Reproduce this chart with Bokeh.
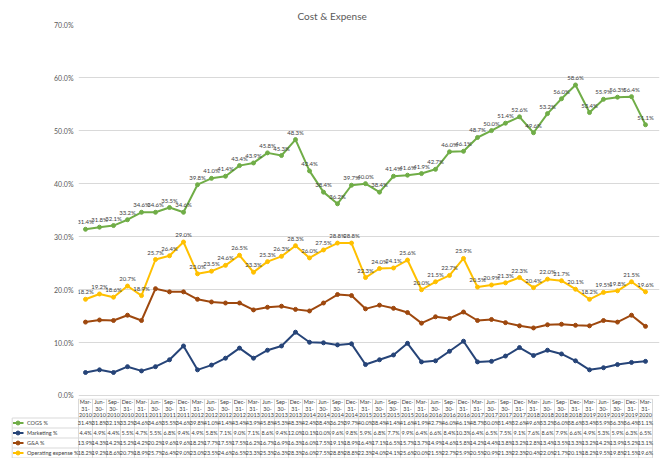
from bokeh.plotting import figure
from bokeh.models import Range1d, FixedTicker, PrintfTickFormatter, ColumnDataSource
from bokeh.embed import file_html
from bokeh.resources import INLINE
from bokeh.core.properties import value

# ---------------- data ----------------
month_labels = ["Mar-", "Jun-", "Sep-", "Dec-"]
day_labels = ["31-", "30-", "30-", "31-"]
year_labels = [str(y) for y in range(2010, 2021)]

cogs = [31.4, 31.8, 32.1, 33.2, 34.6, 34.6, 35.5, 34.6, 39.8, 41.0, 41.4, 43.4, 43.9, 45.8,
        45.3, 48.3, 42.4, 38.4, 36.2, 39.7, 40.0, 38.4, 41.4, 41.6, 41.9, 42.7, 46.0, 46.1,
        48.7, 50.0, 51.4, 52.6, 49.6, 53.2, 56.0, 58.6, 53.4, 55.9, 56.3, 56.4, 51.1]
marketing = [4.4, 4.9, 4.4, 5.5, 4.7, 5.5, 6.8, 9.4, 4.9, 5.8, 7.1, 9.0, 7.1, 8.6, 9.4, 12.0,
             10.1, 10.0, 9.6, 9.8, 5.9, 6.8, 7.7, 9.9, 6.4, 6.6, 8.4, 10.3, 6.4, 6.5, 7.5, 9.1,
             7.6, 8.6, 7.9, 6.6, 4.9, 5.3, 5.9, 6.3, 6.5]
ga = [13.9, 14.3, 14.2, 15.2, 14.2, 20.2, 19.6, 19.6, 18.2, 17.7, 17.5, 17.5, 16.2, 16.7,
      16.9, 16.3, 16.0, 17.5, 19.1, 18.9, 16.4, 17.1, 16.5, 15.7, 13.7, 14.9, 14.6, 15.8,
      14.2, 14.4, 13.8, 13.2, 12.8, 13.4, 13.5, 13.3, 13.2, 14.2, 13.9, 15.2, 13.1]
opex = [18.2, 19.2, 18.6, 20.7, 18.9, 25.7, 26.4, 29.0, 23.0, 23.5, 24.6, 26.5, 23.3, 25.3,
        26.3, 28.3, 26.0, 27.5, 28.8, 28.8, 22.3, 24.0, 24.1, 25.6, 20.0, 21.5, 22.7, 25.9,
        20.5, 20.9, 21.3, 22.3, 20.4, 22.0, 21.7, 20.1, 18.2, 19.5, 19.8, 21.5, 19.6]

series_names = ["COGS %", "Marketing %", "G&A %", "Operating expense %"]
series_values = [cogs, marketing, ga, opex]
series_colors = ["#70ad47", "#264478", "#9e480e", "#ffc000"]
labelled = [True, False, False, True]
y_ticks = [0, 10, 20, 30, 40, 50, 60, 70]

n = len(cogs)
xs = list(range(n))
q_month = [month_labels[i % 4] for i in xs]
q_day = [day_labels[i % 4] for i in xs]
q_year = [year_labels[i // 4] for i in xs]

FONT = "Lato"
TXT = "#404040"
GRID = "#d9d9d9"
W = 660
PX = 14.0      # pixels per quarter
LEFT = 78      # left edge of chart frame
X_MAX = n      # right end of x range (leaves room for the last label)

# ---------------- chart ----------------
p = figure(width=W, height=398, x_range=Range1d(-0.5, X_MAX), y_range=Range1d(-0.5, 70),
           output_backend="svg", toolbar_location=None, x_axis_location=None,
           min_border_left=LEFT, min_border_right=1, min_border_top=24, min_border_bottom=0)
p.title.text = "Cost & Expense"
p.title.align = "left"
p.title.offset = 219
p.title.text_font = FONT
p.title.text_font_size = "10px"
p.title.text_font_style = "normal"
p.title.text_color = "#595959"
p.title.standoff = 6
p.outline_line_color = None
p.yaxis.ticker = FixedTicker(ticks=y_ticks)
p.yaxis.formatter = PrintfTickFormatter(format="%.1f%%")
p.yaxis.axis_line_color = None
p.yaxis.major_tick_line_color = None
p.yaxis.minor_tick_line_color = None
p.yaxis.major_tick_out = 0
p.yaxis.major_tick_in = 0
p.yaxis.minor_tick_out = 0
p.yaxis.major_label_text_font = FONT
p.yaxis.major_label_text_font_size = "7px"
p.yaxis.major_label_text_color = "#595959"
p.yaxis.major_label_standoff = 5
p.ygrid.grid_line_color = GRID
for g in p.xgrid:
    g.visible = False

for name, vals, col, lab in zip(series_names, series_values, series_colors, labelled):
    src = ColumnDataSource(dict(x=xs, y=vals, t=["%.1f%%" % v for v in vals]))
    p.line("x", "y", source=src, line_color=col, line_width=2)
    p.scatter("x", "y", source=src, size=4, fill_color=col, line_color=col)
    if lab:
        p.text("x", "y", text="t", source=src, y_offset=-4, text_align="center",
               text_baseline="bottom", text_font=value(FONT), text_font_size="6px",
               text_color=TXT)

# ---------------- data table ----------------
TH = 60
T_LEFT = 10
x_left = -0.5 - (LEFT - T_LEFT) / PX
t = figure(width=W, height=TH, x_range=Range1d(x_left, X_MAX), y_range=Range1d(TH, 0),
           output_backend="svg", toolbar_location=None, x_axis_location=None,
           y_axis_location=None, min_border_left=T_LEFT, min_border_right=1,
           min_border_top=0, min_border_bottom=0)
t.outline_line_color = None
t.grid.visible = False

def fx(px):
    return x_left + px / PX

head_top, head_bot, row_h = 0.5, 19.5, 10.0
row_y = [head_bot + row_h * (i + 1) for i in range(len(series_names))]
bottom = row_y[-1]
right = n - 0.5

vx = [i - 0.5 for i in range(n + 1)]
t.segment(x0=vx, y0=[head_top] * len(vx), x1=vx, y1=[bottom] * len(vx),
          line_color=GRID, line_width=1)
t.segment(x0=[fx(1.7)], y0=[head_bot], x1=[fx(1.7)], y1=[bottom], line_color=GRID, line_width=1)
t.segment(x0=[-0.5], y0=[head_top], x1=[right], y1=[head_top], line_color=GRID, line_width=1)
t.segment(x0=[fx(1.7)] * (len(row_y) + 1), y0=[head_bot] + row_y,
          x1=[right] * (len(row_y) + 1), y1=[head_bot] + row_y, line_color=GRID, line_width=1)

for lines, yy in ((q_month, 3.5), (q_day, 10.0), (q_year, 16.0)):
    t.text(x=xs, y=[yy] * n, text=lines, text_align="center", text_baseline="middle",
           text_font=value(FONT), text_font_size="5.5px", text_color=TXT)

for i, (name, vals, col) in enumerate(zip(series_names, series_values, series_colors)):
    yc = row_y[i] - row_h / 2
    t.text(x=xs, y=[yc] * n, text=["%.1f%%" % v for v in vals], text_align="center",
           text_baseline="middle", text_font=value(FONT), text_font_size="5.5px",
           text_color=TXT)
    t.segment(x0=[fx(2.5)], y0=[yc], x1=[fx(13)], y1=[yc], line_color=col, line_width=2)
    t.scatter(x=[fx(7.5)], y=[yc], size=4, fill_color=col, line_color=col)
    t.text(x=[fx(16.5)], y=[yc], text=[name], text_align="left", text_baseline="middle",
           text_font=value(FONT), text_font_size="5.5px", text_color=TXT)

open("out.html", "w").write(file_html([p, t], INLINE))
